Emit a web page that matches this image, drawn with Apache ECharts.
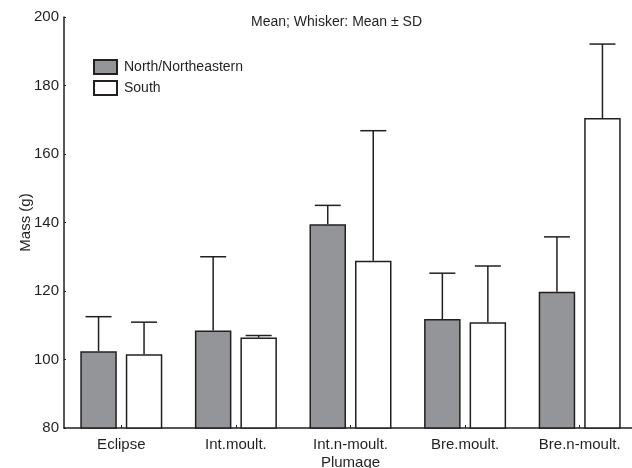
<!DOCTYPE html>
<html><head><meta charset="utf-8">
<script src="https://cdn.jsdelivr.net/npm/echarts@6/dist/echarts.min.js"></script>
<style>html,body{margin:0;padding:0;background:#fff}#c{width:632px;height:468px}</style>
</head><body><div id="c"></div>
<script>
const categories = ['Eclipse', 'Int.moult.', 'Int.n-moult.', 'Bre.moult.', 'Bre.n-moult.'];
const northMean = [102.4, 108.5, 139.5, 111.8, 119.8];
const northUpper = [112.5, 130.0, 145.0, 125.2, 135.8];
const southMean = [101.5, 106.4, 128.8, 110.9, 170.5];
const southUpper = [110.9, 107.0, 166.8, 127.3, 192.1];
const yTicks = [80, 100, 120, 140, 160, 180, 200];

const BAR_W = 36.5, BAR_GAP = 9, CAP = 26;
const font = 'Liberation Sans, Arial, sans-serif';
const ink = '#231f20';

function whisker(offsetSign, mean, upper) {
  return {
    type: 'custom',
    silent: true,
    z: 5,
    data: categories.map((c, i) => [i, mean[i], upper[i]]),
    renderItem: function (params, api) {
      const base = api.coord([api.value(0), api.value(1)]);
      const top = api.coord([api.value(0), api.value(2)]);
      const x = base[0] + offsetSign * (BAR_W + BAR_GAP) / 2;
      const st = { stroke: ink, lineWidth: 1.5 };
      return {
        type: 'group',
        children: [
          { type: 'line', shape: { x1: x, y1: base[1], x2: x, y2: top[1] }, style: st },
          { type: 'line', shape: { x1: x - CAP / 2, y1: top[1], x2: x + CAP / 2, y2: top[1] }, style: st }
        ]
      };
    }
  };
}

const chart = echarts.init(document.getElementById('c'), null, { renderer: 'canvas' });
chart.setOption({
  animation: false,
  backgroundColor: '#fff',
  title: {
    text: 'Mean; Whisker: Mean ± SD',
    left: 246, top: 10,
    textStyle: { fontFamily: font, fontSize: 14, fontWeight: 'normal', color: ink }
  },
  legend: {
    left: 88, top: 54, orient: 'vertical', itemWidth: 23, itemHeight: 14, itemGap: 5,
    icon: 'rect',
    textStyle: { fontFamily: font, fontSize: 14, color: ink, padding: [0, 0, 0, 2] },
    data: ['North/Northeastern', 'South']
  },
  grid: { left: 64, right: -5, top: 17, bottom: 40, containLabel: false, outerBoundsMode: 'none' },
  xAxis: {
    type: 'category',
    data: categories,
    name: 'Plumage', nameLocation: 'middle', nameGap: 27, nameMoveOverlap: false,
    nameTextStyle: { fontFamily: font, fontSize: 15, color: ink },
    axisLine: { lineStyle: { color: ink, width: 1.5 } },
    axisTick: { show: true, inside: true, length: 3, alignWithLabel: true, lineStyle: { color: ink } },
    axisLabel: { fontFamily: font, fontSize: 15, color: ink, margin: 9 }
  },
  yAxis: {
    type: 'value', min: yTicks[0], max: yTicks[yTicks.length - 1], interval: 20,
    name: 'Mass (g)', nameLocation: 'middle', nameGap: 31, nameMoveOverlap: false,
    nameTextStyle: { fontFamily: font, fontSize: 15, color: ink },
    axisLine: { show: true, lineStyle: { color: ink, width: 1.5 } },
    axisTick: { show: true, inside: true, length: 2, lineStyle: { color: ink } },
    axisLabel: { fontFamily: font, fontSize: 15, color: ink, margin: 5 },
    splitLine: { show: false }
  },
  series: [
    {
      name: 'North/Northeastern', type: 'bar', data: northMean,
      barWidth: BAR_W, barGap: (BAR_GAP / BAR_W * 100) + '%',
      itemStyle: { color: '#939598', borderColor: ink, borderWidth: 1.5 }
    },
    {
      name: 'South', type: 'bar', data: southMean,
      barWidth: BAR_W,
      itemStyle: { color: '#ffffff', borderColor: ink, borderWidth: 1.5 }
    },
    whisker(-1, northMean, northUpper),
    whisker(1, southMean, southUpper)
  ]
});
</script></body></html>
